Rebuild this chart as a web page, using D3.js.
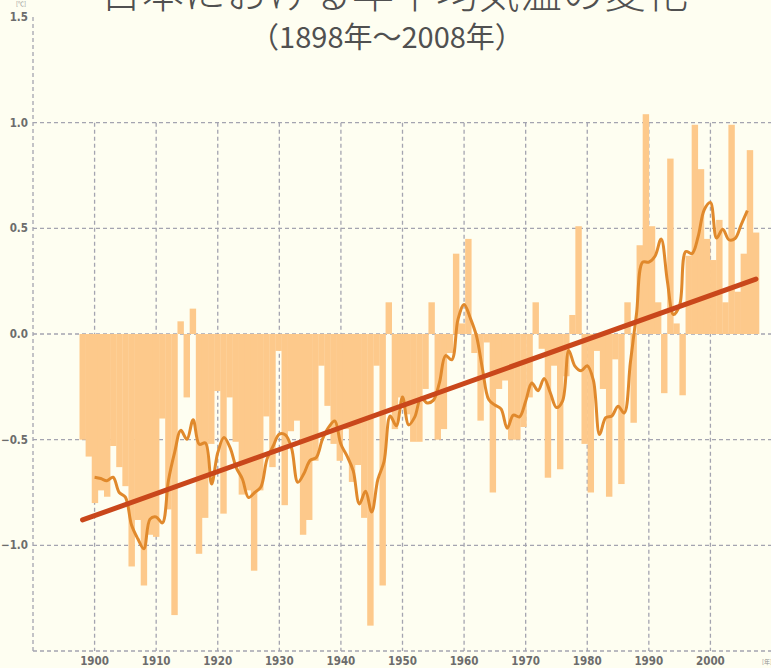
<head>
    <meta charset="utf-8">
    <script src="https://d3js.org/d3.v7.min.js"></script>
    <style>
        body {
            margin: 0;
            background: #fefef1;
        }
        svg { display: block; }
    </style>
</head>

<body>

<svg width="771" height="668"></svg>

<script>

    // annual mean temperature anomaly in Japan (deg C), 1898-2008
    var years = d3.range(1898, 2009);

    var anomaly = [
        -0.50, -0.58,                                                   // 1898-1899
        -0.80, -0.74, -0.77, -0.53, -0.63, -0.72, -1.10, -0.88, -1.19, -0.95, // 1900s
        -0.96, -0.40, -0.83, -1.33,  0.06, -0.30,  0.12, -1.04, -0.87, -0.52, // 1910s
        -0.27, -0.85, -0.30, -0.51, -0.76, -0.74, -1.12, -0.74, -0.39, -0.63, // 1920s
        -0.08, -0.81, -0.46, -0.41, -0.95, -0.88, -0.60, -0.15, -0.34, -0.52, // 1930s
        -0.60, -0.45, -0.70, -0.62, -0.87, -1.38, -0.15, -1.19,  0.15, -0.45, // 1940s
        -0.30, -0.38, -0.51, -0.51, -0.26,  0.15, -0.50, -0.45, -0.09,  0.38, // 1950s
         0.05,  0.45, -0.09, -0.41, -0.04, -0.75, -0.26, -0.22, -0.50, -0.50, // 1960s
        -0.44, -0.30,  0.15, -0.07, -0.68, -0.15, -0.64, -0.20,  0.09,  0.51, // 1970s
        -0.52, -0.75, -0.08, -0.26, -0.77, -0.12, -0.71,  0.15, -0.42,  0.42, // 1980s
         1.04,  0.51,  0.15, -0.28,  0.83,  0.05, -0.29,  0.37,  0.99,  0.78, // 1990s
         0.45,  0.35,  0.54,  0.15,  0.99,  0.20,  0.38,  0.87,  0.48         // 2000s
    ];

    // long-term trend, end points
    var trendYears = [1898, 2008];
    var trendValues = [-0.88, 0.26];

    var yTicks = [-1.0, -0.5, 0.0, 0.5, 1.0, 1.5];
    var yGrid = [-1.5, -1.0, -0.5, 0.0, 0.5, 1.0];
    var decadeTicks = [1900, 1910, 1920, 1930, 1940, 1950, 1960, 1970, 1980, 1990, 2000];

    var title = "日本における年平均気温の変化";
    var subtitle = "（1898年〜2008年）";

    var data = years.map((yr, i) => ({year: yr, value: anomaly[i]}));
    var trend = trendYears.map((yr, i) => ({year: yr, value: trendValues[i]}));

    //
    // 5-year running mean
    //

    var smooth = [];
    for (var i = 2; i < data.length - 2; i++) {
        smooth.push({year: data[i].year, value: d3.mean(data.slice(i - 2, i + 3), d => d.value)});
    }

    //
    // scales
    //

    var svg = d3.select("svg");

    var y = d3.scaleLinear()
        .domain([-1.5, 1.5])
        .range([651, 17]);

    var xTick = d3.scaleLinear()
        .domain([1890, 2010])
        .range([33, 772]);

    var x = d3.scaleBand()
        .domain(years)
        .range([79.5, 759])
        .padding(0);

    var cx = d => x(d) + x.bandwidth() / 2;

    svg.append("rect")
        .attr("width", 771)
        .attr("height", 668)
        .attr("fill", "#fefef1");

    //
    // grid
    //

    var grid = svg.append("g")
        .attr("stroke", "#a4a4b0")
        .attr("stroke-width", 1.3)
        .attr("stroke-dasharray", "4,3");

    grid.selectAll(".hgrid")
        .data(yGrid)
        .enter().append("line")
        .attr("x1", 33)
        .attr("x2", 771)
        .attr("y1", d => y(d))
        .attr("y2", d => y(d));

    grid.selectAll(".vgrid")
        .data(decadeTicks)
        .enter().append("line")
        .attr("x1", d => xTick(d))
        .attr("x2", d => xTick(d))
        .attr("y1", y(1.0))
        .attr("y2", y(-1.5));

    grid.append("line")
        .attr("x1", xTick(1890))
        .attr("x2", xTick(1890))
        .attr("y1", y(1.5))
        .attr("y2", y(-1.5));

    //
    // bars
    //

    svg.append("g").selectAll("rect")
        .data(data)
        .enter().append("rect")
        .attr("x", d => x(d.year))
        .attr("width", x.bandwidth() + 0.3)
        .attr("y", d => y(Math.max(0, d.value)))
        .attr("height", d => Math.abs(y(d.value) - y(0)))
        .attr("fill", "#fdc98b");

    //
    // lines
    //

    svg.append("path")
        .datum(smooth)
        .attr("fill", "none")
        .attr("stroke", "#e0892c")
        .attr("stroke-width", 3)
        .attr("d", d3.line()
            .x(d => xTick(d.year))
            .y(d => y(d.value))
            .curve(d3.curveCatmullRom.alpha(0.5)));

    svg.append("path")
        .datum(trend)
        .attr("fill", "none")
        .attr("stroke", "#c9471b")
        .attr("stroke-width", 5)
        .attr("stroke-linecap", "round")
        .attr("d", d3.line().x(d => cx(d.year)).y(d => y(d.value)));

    //
    // axis labels
    //

    var axisFont = "'Liberation Sans Narrow', 'DejaVu Sans Condensed', sans-serif";

    svg.append("g").selectAll("text")
        .data(yTicks)
        .enter().append("text")
        .attr("x", 28)
        .attr("y", d => y(d))
        .attr("dy", "0.35em")
        .attr("text-anchor", "end")
        .attr("font-family", axisFont)
        .attr("font-weight", "bold")
        .attr("font-size", 11.5)
        .attr("fill", "#6c6c6c")
        .text(d => d3.format(".1f")(d));

    svg.append("g").selectAll("text")
        .data(decadeTicks)
        .enter().append("text")
        .attr("x", d => xTick(d))
        .attr("y", 661)
        .attr("dy", "0.35em")
        .attr("text-anchor", "middle")
        .attr("font-family", axisFont)
        .attr("font-weight", "bold")
        .attr("font-size", 11.5)
        .attr("fill", "#6c6c6c")
        .text(d => d);

    svg.append("text")
        .attr("x", 21)
        .attr("y", 6)
        .attr("text-anchor", "middle")
        .attr("font-family", "'Noto Sans CJK JP', sans-serif")
        .attr("font-size", 6)
        .attr("fill", "#909090")
        .text("[℃]");

    svg.append("text")
        .attr("x", 767)
        .attr("y", 664)
        .attr("text-anchor", "middle")
        .attr("font-family", "'Noto Sans CJK JP', sans-serif")
        .attr("font-size", 6)
        .attr("fill", "#909090")
        .text("[年]");

    //
    // titles
    //

    svg.append("text")
        .attr("x", 394)
        .attr("y", 8)
        .attr("text-anchor", "middle")
        .attr("font-family", "'Noto Sans CJK JP', sans-serif")
        .attr("font-weight", 300)
        .attr("font-size", 42)
        .attr("fill", "#505050")
        .text(title);

    svg.append("text")
        .attr("x", 387)
        .attr("y", 48)
        .attr("text-anchor", "middle")
        .attr("font-family", "'Noto Sans CJK JP', sans-serif")
        .attr("font-size", 29)
        .attr("fill", "#505050")
        .text(subtitle);

</script>
</body>
